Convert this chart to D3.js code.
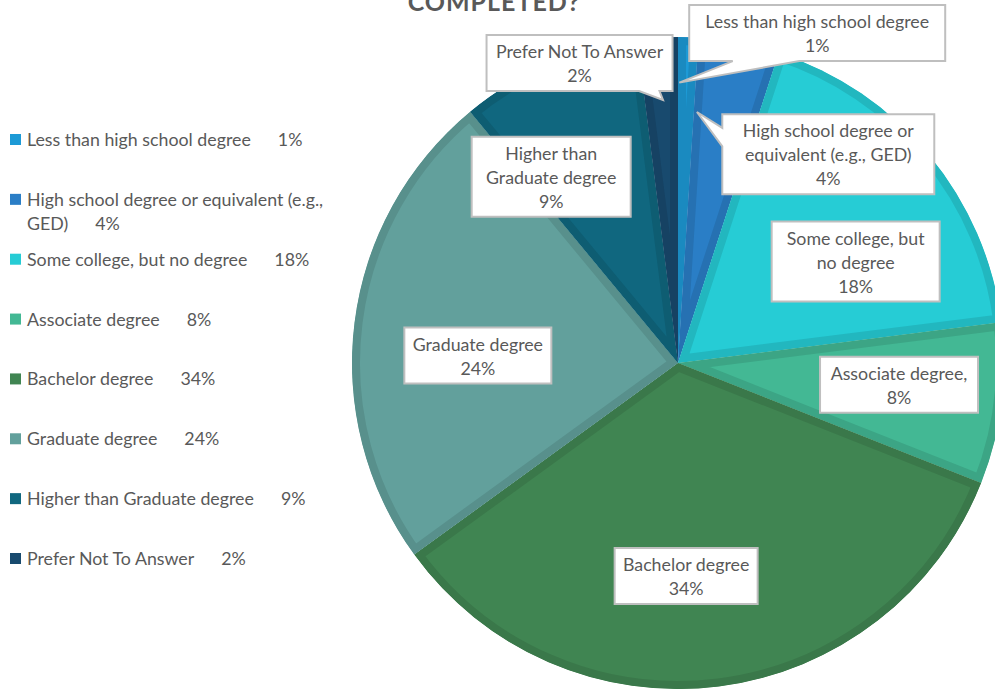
<!DOCTYPE html>
<html>
<head>
<meta charset="utf-8">
<script src="https://cdn.jsdelivr.net/npm/d3@7.9.0/dist/d3.min.js"></script>
<style>
  body { margin: 0; background: #fff; }
  svg { display: block; font-family: Lato, 'Open Sans', sans-serif; }
</style>
</head>
<body>
<div id="chart"></div>
<script>
// data
const categories = [
  'Less than high school degree',
  'High school degree or equivalent (e.g., GED)',
  'Some college, but no degree',
  'Associate degree',
  'Bachelor degree',
  'Graduate degree',
  'Higher than Graduate degree',
  'Prefer Not To Answer'
];
const values = [1, 4, 18, 8, 34, 24, 9, 2];
const colors = ['#1d9ad6', '#2a7ec6', '#26ccd5', '#43b894', '#408552', '#62a09c', '#10677f', '#184a6e'];

// text lines in the slice callouts
const labelLines = [
  ['Less than high school degree'],
  ['High school degree or', 'equivalent (e.g., GED)'],
  ['Some college, but', 'no degree'],
  ['Associate degree,'],
  ['Bachelor degree'],
  ['Graduate degree'],
  ['Higher than', 'Graduate degree'],
  ['Prefer Not To Answer']
];
// legend text lines (second one wraps)
const legendLines = [
  ['Less than high school degree'],
  ['High school degree or equivalent (e.g.,', 'GED)'],
  ['Some college, but no degree'],
  ['Associate degree'],
  ['Bachelor degree'],
  ['Graduate degree'],
  ['Higher than Graduate degree'],
  ['Prefer Not To Answer']
];

const width = 995;
const height = 696;
const cx = 678, cy = 363, radius = 326;

const svg = d3.select('#chart')
  .append('svg')
  .attr('width', width)
  .attr('height', height);

// title, first line is outside the picture
svg.append('text')
  .attr('x', 494)
  .attr('y', 11)
  .attr('text-anchor', 'middle')
  .attr('fill', '#595959')
  .style('font-size', '25px')
  .style('font-weight', 'bold')
  .style('letter-spacing', '1px')
  .text('COMPLETED?');

const pie = d3.pie().sort(null).value(d => d);
const arcs = pie(values);
const arc = d3.arc().innerRadius(0).outerRadius(radius);

const defs = svg.append('defs');
const g = svg.append('g').attr('transform', `translate(${cx},${cy})`);

arcs.forEach((a, i) => {
  defs.append('clipPath')
    .attr('id', 'clip' + i)
    .append('path')
    .attr('d', arc(a));
});

// slices with a darker inner band along the edges
g.selectAll('path.slice')
  .data(arcs)
  .join('path')
  .attr('class', 'slice')
  .attr('d', arc)
  .attr('fill', (d, i) => colors[i])
  .attr('stroke', (d, i) => d3.color(colors[i]).darker(0.3))
  .attr('stroke-width', 16)
  .attr('clip-path', (d, i) => `url(#clip${i})`);

// callout boxes: centre and pointer tip, in units of the radius
const calloutLayout = [
  { x: 0.427, y: -1.012, w: 256, tip: [0.004, -0.86], side: 'bottom', base: [0.17, 0.43] },
  { x: 0.461, y: -0.64, w: 212, tip: [0.058, -0.77], side: 'left', base: [0.17, 0.4] },
  { x: 0.545, y: -0.311, w: 168 },
  { x: 0.678, y: 0.067, w: 158 },
  { x: 0.025, y: 0.653, w: 143 },
  { x: -0.614, y: -0.023, w: 147 },
  { x: -0.389, y: -0.571, w: 159 },
  { x: -0.302, y: -0.92, w: 186, tip: [-0.046, -0.807], side: 'bottom', base: [0.82, 0.93] }
];

const lineH = 24;
const fontSize = 17.8;

arcs.forEach((a, i) => {
  const L = calloutLayout[i];
  const lines = labelLines[i].concat([values[i] + '%']);
  const bw = L.w;
  const bh = lines.length * lineH + 8;
  const x0 = cx + L.x * radius - bw / 2;
  const y0 = cy + L.y * radius - bh / 2;
  let d;
  if (L.tip) {
    const tx = cx + L.tip[0] * radius, ty = cy + L.tip[1] * radius;
    if (L.side === 'bottom') {
      const b1 = x0 + bw * L.base[0], b2 = x0 + bw * L.base[1];
      d = `M${x0},${y0}H${x0 + bw}V${y0 + bh}H${b2}L${tx},${ty}L${b1},${y0 + bh}H${x0}Z`;
    } else {
      const b1 = y0 + bh * L.base[0], b2 = y0 + bh * L.base[1];
      d = `M${x0},${y0}H${x0 + bw}V${y0 + bh}H${x0}V${b2}L${tx},${ty}L${x0},${b1}Z`;
    }
  } else {
    d = `M${x0},${y0}h${bw}v${bh}h${-bw}Z`;
  }
  const cg = svg.append('g');
  cg.append('path')
    .attr('d', d)
    .attr('fill', '#fff')
    .attr('stroke', '#bfbfbf')
    .attr('stroke-width', 2);
  cg.selectAll('text')
    .data(lines)
    .join('text')
    .attr('x', x0 + bw / 2)
    .attr('y', (t, k) => y0 + 23 + lineH * k)
    .attr('text-anchor', 'middle')
    .attr('fill', '#595959')
    .style('font-size', fontSize + 'px')
    .text(t => t);
});

// legend
const legendY = d3.scalePoint()
  .domain(categories)
  .range([140, 559]);

const legend = svg.append('g');
categories.forEach((c, i) => {
  const y = legendY(c);
  const row = legend.append('g');
  row.append('rect')
    .attr('x', 10)
    .attr('y', y - 6)
    .attr('width', 11)
    .attr('height', 11)
    .attr('fill', colors[i]);
  const lines = legendLines[i];
  lines.forEach((t, k) => {
    const txt = row.append('text')
      .attr('x', 27)
      .attr('y', y + 6 + k * 24)
      .attr('fill', '#595959')
      .style('font-size', fontSize + 'px')
      .text(t);
    if (k === lines.length - 1) {
      txt.append('tspan')
        .attr('dx', 27)
        .text(values[i] + '%');
    }
  });
});
</script>
</body>
</html>
